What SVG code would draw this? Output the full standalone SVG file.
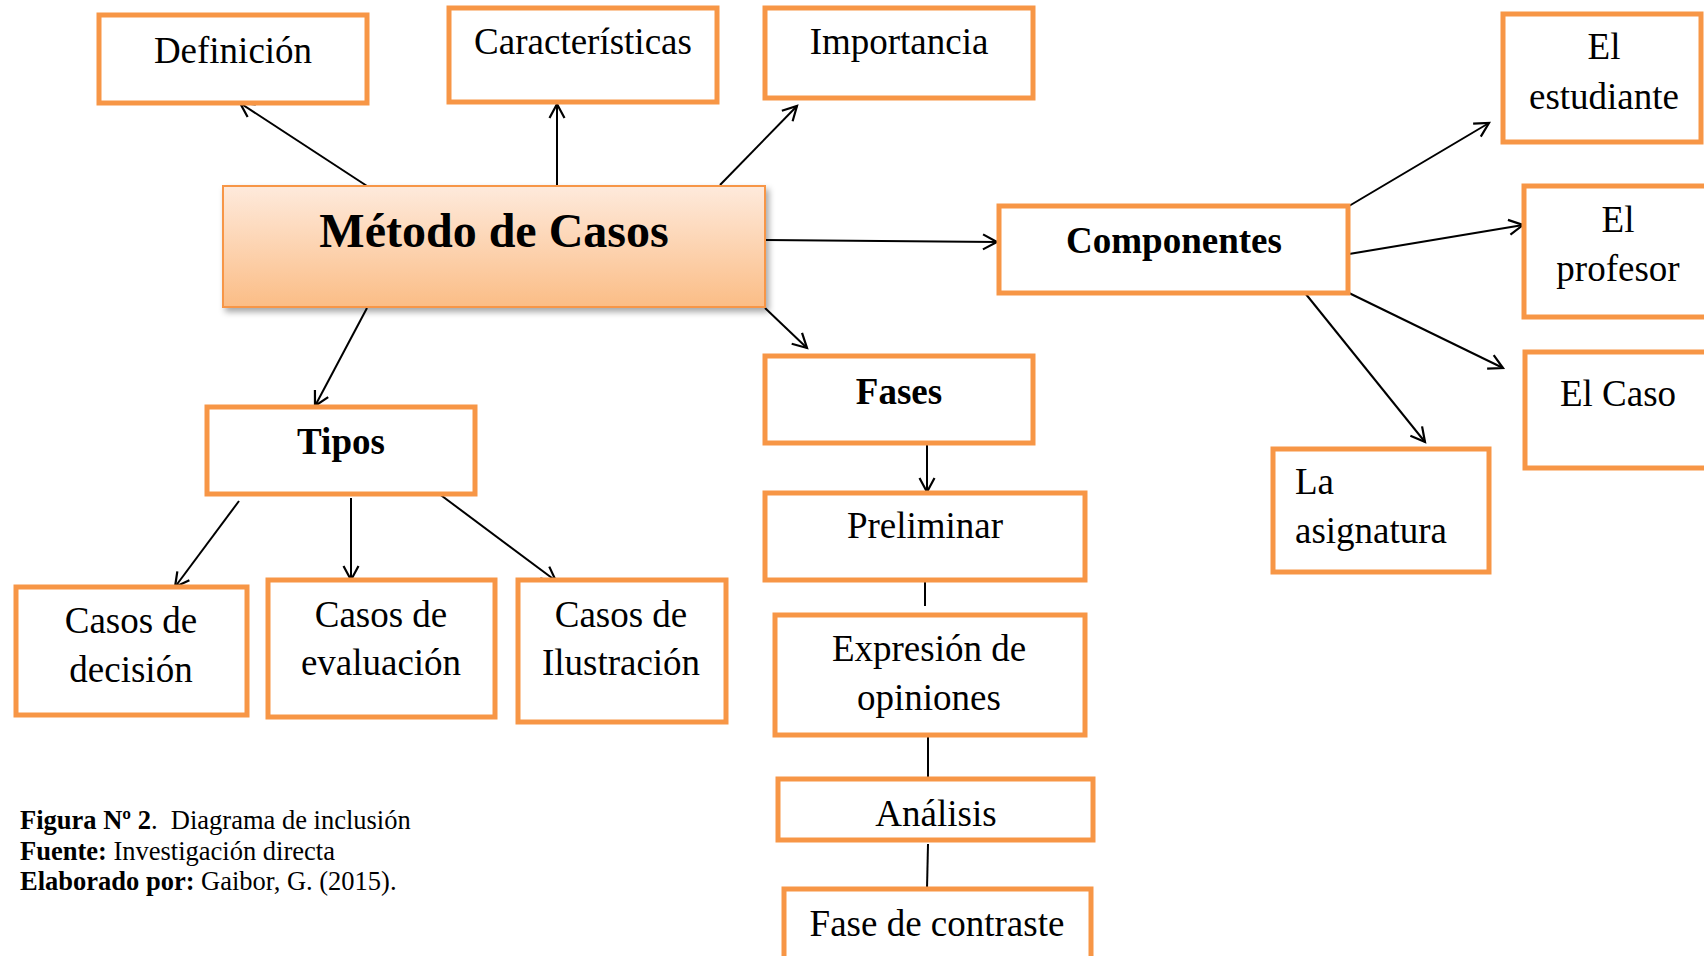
<svg xmlns="http://www.w3.org/2000/svg" width="1704" height="956" viewBox="0 0 1704 956">
<defs>
<linearGradient id="mainGrad" x1="0" y1="0" x2="0" y2="1">
<stop offset="0" stop-color="#FEEADC"/>
<stop offset="1" stop-color="#FBBD86"/>
</linearGradient>
<filter id="shadow" x="-5%" y="-10%" width="112%" height="130%">
<feDropShadow dx="3" dy="4" stdDeviation="3" flood-color="#000" flood-opacity="0.35"/>
</filter>
<marker id="arr" markerWidth="20" markerHeight="20" refX="16" refY="9" orient="auto" markerUnits="userSpaceOnUse">
<path d="M2,1.5 L16,9 L2,16.5" fill="none" stroke="#000" stroke-width="2.2"/>
</marker>
</defs>
<style>
.box{fill:#fff;stroke:#F79646;stroke-width:5}
.t{font-family:"Liberation Serif","Times New Roman",serif;font-size:37px;fill:#000;text-anchor:middle}
.b{font-weight:bold}
.cap{font-family:"Liberation Serif","Times New Roman",serif;font-size:26.5px;fill:#000;white-space:pre}
.c{stroke:#000;stroke-width:2;fill:none}
.a{marker-end:url(#arr)}
</style>
<rect width="1704" height="956" fill="#fff"/>

<g id="connectors">
<line class="c a" x1="367" y1="186" x2="240" y2="103"/>
<line class="c a" x1="557" y1="186" x2="557" y2="104"/>
<line class="c a" x1="720" y1="185" x2="797" y2="106"/>
<line class="c a" x1="766" y1="240" x2="997" y2="242"/>
<line class="c a" x1="765" y1="308" x2="807" y2="348"/>
<line class="c a" x1="367" y1="308" x2="315" y2="406"/>
<line class="c a" x1="239" y1="501" x2="175" y2="587"/>
<line class="c a" x1="351" y1="498" x2="351" y2="580"/>
<line class="c a" x1="438" y1="493" x2="556" y2="581"/>
<line class="c a" x1="927" y1="443" x2="927" y2="492"/>
<line class="c" x1="925" y1="580" x2="925" y2="606"/>
<line class="c" x1="928" y1="735" x2="928" y2="779"/>
<line class="c" x1="928" y1="844" x2="927" y2="889"/>
<line class="c a" x1="1349" y1="206" x2="1489" y2="123"/>
<line class="c a" x1="1349" y1="254" x2="1523" y2="225"/>
<line class="c a" x1="1349" y1="293" x2="1503" y2="368"/>
<line class="c a" x1="1305" y1="293" x2="1425" y2="442"/>
</g>

<g id="metodo">
<rect x="223" y="186" width="542" height="121" fill="url(#mainGrad)" stroke="#F79646" stroke-width="2" filter="url(#shadow)"/>
<text class="t b" x="494" y="247" style="font-size:48px">Método de Casos</text>
</g>

<g id="definicion">
<rect class="box" x="99" y="15" width="268" height="88"/>
<text class="t" x="233" y="63">Definición</text>
</g>

<g id="caracteristicas">
<rect class="box" x="449" y="8" width="268" height="94"/>
<text class="t" x="583" y="54">Características</text>
</g>

<g id="importancia">
<rect class="box" x="765" y="8" width="268" height="90"/>
<text class="t" x="899" y="54">Importancia</text>
</g>

<g id="componentes">
<rect class="box" x="999" y="206" width="349" height="87"/>
<text class="t b" x="1174" y="253">Componentes</text>
</g>

<g id="estudiante">
<rect class="box" x="1503" y="14" width="198" height="128"/>
<text class="t" x="1604" y="59">El</text>
<text class="t" x="1604" y="109">estudiante</text>
</g>

<g id="profesor">
<rect class="box" x="1524" y="186" width="184" height="131"/>
<text class="t" x="1618" y="232">El</text>
<text class="t" x="1618" y="281">profesor</text>
</g>

<g id="caso">
<rect class="box" x="1525" y="352" width="184" height="116"/>
<text class="t" x="1618" y="406">El Caso</text>
</g>

<g id="asignatura">
<rect class="box" x="1273" y="449" width="216" height="123"/>
<text class="t" x="1295" y="494" style="text-anchor:start">La</text>
<text class="t" x="1295" y="543" style="text-anchor:start">asignatura</text>
</g>

<g id="fases">
<rect class="box" x="765" y="356" width="268" height="87"/>
<text class="t b" x="899" y="404">Fases</text>
</g>

<g id="preliminar">
<rect class="box" x="765" y="493" width="320" height="87"/>
<text class="t" x="925" y="538">Preliminar</text>
</g>

<g id="expresion">
<rect class="box" x="775" y="615" width="310" height="120"/>
<text class="t" x="929" y="661">Expresión de</text>
<text class="t" x="929" y="710">opiniones</text>
</g>

<g id="analisis">
<rect class="box" x="778" y="779" width="315" height="61"/>
<text class="t" x="936" y="826">Análisis</text>
</g>

<g id="contraste">
<rect class="box" x="784" y="889" width="307" height="90"/>
<text class="t" x="937" y="936">Fase de contraste</text>
</g>

<g id="tipos">
<rect class="box" x="207" y="407" width="268" height="87"/>
<text class="t b" x="341" y="454">Tipos</text>
</g>

<g id="decision">
<rect class="box" x="16" y="587" width="231" height="128"/>
<text class="t" x="131" y="633">Casos de</text>
<text class="t" x="131" y="682">decisión</text>
</g>

<g id="evaluacion">
<rect class="box" x="268" y="580" width="227" height="137"/>
<text class="t" x="381" y="627">Casos de</text>
<text class="t" x="381" y="675">evaluación</text>
</g>

<g id="ilustracion">
<rect class="box" x="518" y="580" width="208" height="142"/>
<text class="t" x="621" y="627">Casos de</text>
<text class="t" x="621" y="675">Ilustración</text>
</g>

<g id="caption">
<text class="cap" x="20" y="829" xml:space="preserve"><tspan font-weight="bold">Figura Nº 2</tspan>.  Diagrama de inclusión</text>
<text class="cap" x="20" y="860"><tspan font-weight="bold">Fuente:</tspan> Investigación directa</text>
<text class="cap" x="20" y="890"><tspan font-weight="bold">Elaborado por:</tspan> Gaibor, G. (2015).</text>
</g>
</svg>
